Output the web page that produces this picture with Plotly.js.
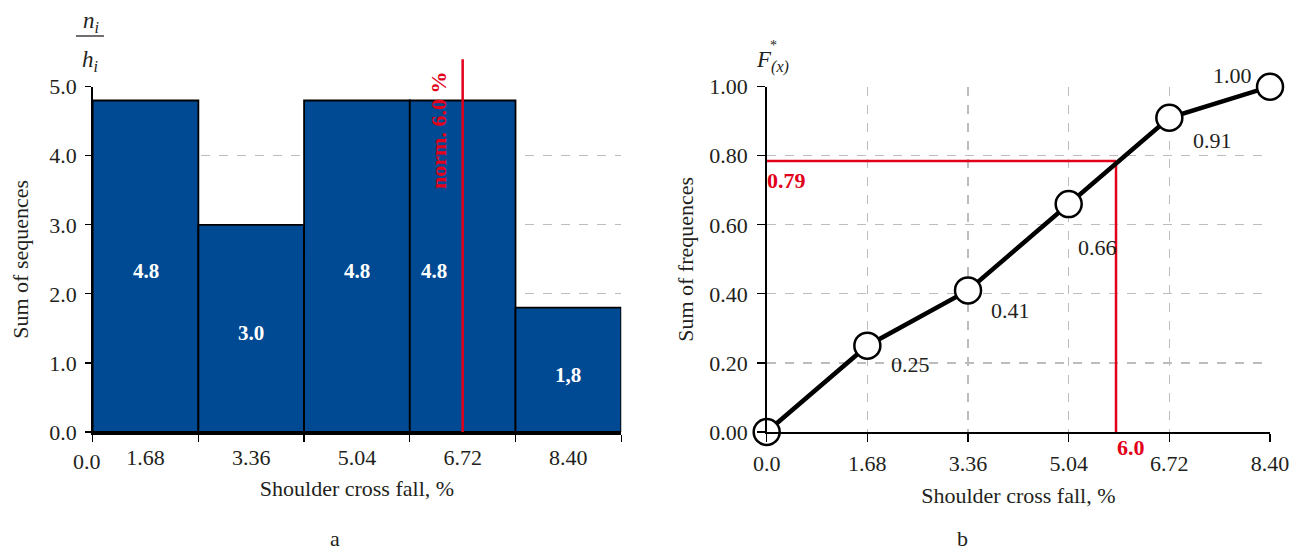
<!DOCTYPE html>
<html>
<head>
<meta charset="utf-8">
<script src="https://cdn.plot.ly/plotly-3.0.1.min.js"></script>
<style>html,body{margin:0;padding:0;background:#fff;}#chart{width:1307px;height:553px;}</style>
</head>
<body>
<div id="chart"></div>
<script>
// ---- Data (panel a) ----
const categories = ["1.68", "3.36", "5.04", "6.72", "8.40"];
const sums = [4.8, 3.0, 4.8, 4.8, 1.8];
const sumLabels = ["4.8", "3.0", "4.8", "4.8", "1,8"];
const yTicksA = [0, 1, 2, 3, 4, 5];
const yTickTextA = ["0.0", "1.0", "2.0", "3.0", "4.0", "5.0"];
const normCategory = "6.72";
const normLabel = "norm. 6.0 %";
const normTop = 5.42;

// ---- Data (panel b) ----
const fall = [0, 1.68, 3.36, 5.04, 6.72, 8.40];
const fallText = ["0.0", "1.68", "3.36", "5.04", "6.72", "8.40"];
const freq = [0, 0.25, 0.41, 0.66, 0.91, 1.00];
const freqLabels = ["", "0.25", "0.41", "0.66", "0.91", "1.00"];
const yTicksB = [0, 0.2, 0.4, 0.6, 0.8, 1.0];
const normX = 5.83;
const normY = 0.785;
const normXLabel = "6.0";
const normYLabel = "0.79";

// ---- Styles ----
const FONT = "Liberation Serif, Times New Roman, serif";
const TXT = "#231f20";
const RED = "#e2001a";
const BLUE = "#004a93";
const GRID = "#bdbdbd";
const FS = 22;

// category positions (index on the category axis)
const catIndex = categories.map((c, i) => i);
const normIndex = categories.indexOf(normCategory);

// label offsets (pixel styling only)
const barLabelShift = [0, 0, 0, -29, 0];
const pointLabelStyle = [
  null,
  {xanchor: "left", xshift: 22, yshift: -19},
  {xanchor: "left", xshift: 21, yshift: -20},
  {xanchor: "left", xshift: 7, yshift: -43},
  {xanchor: "left", xshift: 22, yshift: -23},
  {xanchor: "right", xshift: -16, yshift: 11}
];

const traces = [
  {
    type: "bar", x: categories, y: sums, xaxis: "x", yaxis: "y",
    width: 1,
    marker: {color: BLUE, line: {color: "#000", width: 1.8}},
    hoverinfo: "x+y", showlegend: false
  },
  {
    type: "scatter", mode: "lines+markers", x: fall, y: freq, xaxis: "x2", yaxis: "y2",
    line: {color: "#000", width: 4.5},
    marker: {size: 26, color: "#fff", line: {color: "#000", width: 2.5}},
    cliponaxis: false, showlegend: false
  }
];

const annotations = [];
// bar value labels
catIndex.forEach((xi, i) => {
  annotations.push({
    x: xi, y: sums[i] / 2, xref: "x", yref: "y", text: "<b>" + sumLabels[i] + "</b>",
    showarrow: false, xshift: barLabelShift[i], yshift: -5,
    font: {family: FONT, size: 21, color: "#fff"}
  });
});
// "0.0" label at the left edge of the histogram axis
annotations.push({
  x: -0.5, y: 0, xref: "x", yref: "y", text: "0.0", showarrow: false,
  yanchor: "middle", yshift: -29, xshift: -6, font: {family: FONT, size: FS, color: TXT}
});
// red norm line (panel a) as an unclipped arrow line
annotations.push({
  x: normIndex, y: 0, xref: "x", yref: "y",
  ax: normIndex, ay: normTop, axref: "x", ayref: "y",
  text: "", showarrow: true, arrowhead: 0, arrowwidth: 2.5, arrowcolor: RED, standoff: 0, startstandoff: 0
});
annotations.push({
  x: normIndex, y: 4.37, xref: "x", yref: "y", text: "<b>" + normLabel + "</b>",
  textangle: -90, showarrow: false, xshift: -24,
  font: {family: FONT, size: 22, color: RED}
});
// n_i / h_i
annotations.push({
  x: -0.5, y: 5, xref: "x", yref: "y", text: "<i>n<sub>i</sub></i>", showarrow: false,
  xshift: -2, yshift: 65, font: {family: FONT, size: 23, color: TXT}
});
annotations.push({
  x: -0.5, y: 5, xref: "x", yref: "y", text: "<i>h<sub>i</sub></i>", showarrow: false,
  xshift: -3, yshift: 26, font: {family: FONT, size: 23, color: TXT}
});
// point labels (panel b)
fall.forEach((v, i) => {
  if (!freqLabels[i]) return;
  const s = pointLabelStyle[i];
  annotations.push({
    x: v, y: freq[i], xref: "x2", yref: "y2", text: freqLabels[i], showarrow: false,
    xanchor: s.xanchor, yanchor: "middle", xshift: s.xshift, yshift: s.yshift,
    font: {family: FONT, size: FS, color: TXT}
  });
});
// red labels (panel b)
annotations.push({
  x: 0, y: normY, xref: "x2", yref: "y2", text: "<b>" + normYLabel + "</b>", showarrow: false,
  xanchor: "left", yanchor: "middle", xshift: -2, yshift: -20,
  font: {family: FONT, size: 22, color: RED}
});
annotations.push({
  x: normX, y: 0, xref: "x2", yref: "y2", text: "<b>" + normXLabel + "</b>", showarrow: false,
  xanchor: "left", yanchor: "middle", xshift: -1, yshift: -15,
  font: {family: FONT, size: 22, color: RED}
});
// F*(x)
annotations.push({
  x: 0, y: 1, xref: "x2", yref: "y2", text: "<i>F<sub>(x)</sub></i>", showarrow: false,
  xanchor: "left", yanchor: "middle", xshift: -13, yshift: 25,
  font: {family: FONT, size: 23, color: TXT}
});
annotations.push({
  x: 0, y: 1, xref: "x2", yref: "y2", text: "*", showarrow: false,
  xanchor: "center", yanchor: "middle", xshift: 7, yshift: 41,
  font: {family: FONT, size: 14, color: TXT}
});
// panel letters
annotations.push({x: 0.251, y: 0, xref: "paper", yref: "paper", text: "a", showarrow: false,
  yanchor: "bottom", yshift: 0, font: {family: FONT, size: FS, color: TXT}});
annotations.push({x: 0.742, y: 0, xref: "paper", yref: "paper", text: "b", showarrow: false,
  yanchor: "bottom", yshift: 0, font: {family: FONT, size: FS, color: TXT}});

const shapes = [
  // fraction bar of n_i/h_i
  {type: "line", xref: "paper", yref: "paper", x0: 0.0581, x1: 0.0796, y0: 0.9349, y1: 0.9349,
   line: {color: TXT, width: 1.3}},
  // red reference lines (panel b)
  {type: "line", xref: "x2", yref: "y2", x0: 0, x1: normX, y0: normY, y1: normY,
   line: {color: RED, width: 2.5}, layer: "between"},
  {type: "line", xref: "x2", yref: "y2", x0: normX, x1: normX, y0: 0, y1: normY,
   line: {color: RED, width: 2.5}, layer: "between"}
];

const axisFont = {family: FONT, size: FS, color: TXT};

const layout = {
  width: 1307, height: 553,
  margin: {l: 0, r: 0, t: 0, b: 0},
  paper_bgcolor: "#fff", plot_bgcolor: "#fff",
  font: {family: FONT, size: FS, color: TXT},
  bargap: 0,
  showlegend: false,
  xaxis: {
    type: "category", domain: [0.0709, 0.4753], anchor: "y",
    range: [-0.5, 4.5], tickson: "boundaries",
    ticks: "outside", ticklen: 7, tickwidth: 1.2, tickcolor: "#000",
    showline: true, linecolor: "#000", linewidth: 2.5,
    showgrid: false, tickfont: axisFont, ticklabelstandoff: 4,
    title: {text: "Shoulder cross fall, %", font: axisFont, standoff: 12},
    automargin: false, fixedrange: true
  },
  yaxis: {
    domain: [0.2188, 0.8432], anchor: "x",
    range: [0, 5], tickvals: yTicksA, ticktext: yTickTextA,
    ticks: "outside", ticklen: 6, tickwidth: 1.2, tickcolor: "#000",
    showline: true, linecolor: "#000", linewidth: 1.5,
    showgrid: true, gridcolor: GRID, griddash: "dash", gridwidth: 1.2,
    zeroline: false, tickfont: axisFont, ticklabelstandoff: 4,
    title: {text: "Sum of sequences", font: axisFont, standoff: 14},
    automargin: false, fixedrange: true
  },
  xaxis2: {
    domain: [0.5866, 0.9717], anchor: "y2",
    range: [0, 8.4], tickvals: fall, ticktext: fallText,
    ticks: "outside", ticklen: 8, tickwidth: 1.2, tickcolor: "#000",
    showline: true, linecolor: "#000", linewidth: 1.5,
    showgrid: true, gridcolor: GRID, griddash: "dash", gridwidth: 1.2,
    zeroline: false, tickfont: axisFont, ticklabelstandoff: 3,
    title: {text: "Shoulder cross fall, %", font: axisFont, standoff: 12},
    automargin: false, fixedrange: true
  },
  yaxis2: {
    domain: [0.2188, 0.8432], anchor: "x2",
    range: [0, 1.0], tickvals: yTicksB, tickformat: ".2f",
    ticks: "outside", ticklen: 8, tickwidth: 1.2, tickcolor: "#000",
    showline: true, linecolor: "#000", linewidth: 1.5,
    showgrid: true, gridcolor: GRID, griddash: "dash", gridwidth: 1.2,
    zeroline: false, tickfont: axisFont, ticklabelstandoff: 5,
    title: {text: "Sum of frequences", font: axisFont, standoff: 9},
    automargin: false, fixedrange: true
  },
  annotations: annotations,
  shapes: shapes
};

Plotly.newPlot("chart", traces, layout, {displayModeBar: false, staticPlot: true});
</script>
</body>
</html>
